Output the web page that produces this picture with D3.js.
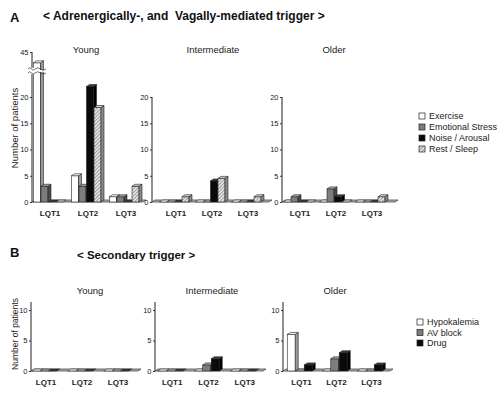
<!DOCTYPE html>
<html>
<head>
<meta charset="utf-8">
<script src="https://cdn.jsdelivr.net/npm/d3@7"></script>
<style>
  body { margin: 0; background: #fff; }
  svg { font-family: "Liberation Sans", Arial, sans-serif; }
</style>
</head>
<body>
<svg id="chart" width="500" height="394"></svg>
<script>
// data
var genotypes = ['LQT1', 'LQT2', 'LQT3']
var ageGroups = ['Young', 'Intermediate', 'Older']

var triggersA = ['Exercise', 'Emotional Stress', 'Noise / Arousal', 'Rest / Sleep']
var youngA = [[42, 3, 0, 0], [5, 3, 22, 18], [1, 1, 0, 3]]
var intermediateA = [[0, 0, 0, 1], [0, 0, 4, 4.5], [0, 0, 0, 1]]
var olderA = [[0, 1, 0, 0], [0, 2.5, 1, 0], [0, 0, 0, 1]]
var ticksA = [0, 5, 10, 15, 20]
var breakTickA = 45

var triggersB = ['Hypokalemia', 'AV block', 'Drug']
var youngB = [[0, 0, 0], [0, 0, 0], [0, 0, 0]]
var intermediateB = [[0, 0, 0], [0, 1, 2], [0, 0, 0]]
var olderB = [[6, 0, 1], [0, 2, 3], [0, 0, 1]]
var ticksB = [0, 5, 10]

var svg = d3.select('#chart')
var defs = svg.append('defs')

var hatch = defs.append('pattern')
  .attr('id', 'hatch')
  .attr('patternUnits', 'userSpaceOnUse')
  .attr('width', 2.5).attr('height', 2.5)
  .attr('patternTransform', 'rotate(45)')
hatch.append('rect').attr('width', 2.5).attr('height', 2.5).attr('fill', '#e2e2e2')
hatch.append('line').attr('x1', 0).attr('y1', 0).attr('x2', 0).attr('y2', 2.5)
  .attr('stroke', '#555').attr('stroke-width', 0.9)

// front / top / side colours per series
var stylesA = [
  {front: '#ffffff', top: '#f4f4f4', side: '#9a9a9a'},
  {front: '#7d7d7d', top: '#a8a8a8', side: '#4a4a4a'},
  {front: '#0a0a0a', top: '#3a3a3a', side: '#000000'},
  {front: 'url(#hatch)', top: '#cfcfcf', side: '#8a8a8a'}
]
var stylesB = [stylesA[0], stylesA[1], stylesA[2]]

var DX = 3, DY = 2

var pts = function (a) { return a.map(function (p) { return p.join(',') }).join(' ') }

function drawBar (g, x, w, yv, y0, st) {
  if (y0 - yv > 0.3) {
    g.append('rect').attr('x', x).attr('y', yv).attr('width', w).attr('height', y0 - yv)
      .attr('fill', st.front).attr('stroke', '#222').attr('stroke-width', 0.6)
    g.append('polygon')
      .attr('points', pts([[x + w, yv], [x + w + DX, yv - DY], [x + w + DX, y0 - DY], [x + w, y0]]))
      .attr('fill', st.side).attr('stroke', '#222').attr('stroke-width', 0.6)
  }
  g.append('polygon')
    .attr('points', pts([[x, yv], [x + DX, yv - DY], [x + w + DX, yv - DY], [x + w, yv]]))
    .attr('fill', st.top).attr('stroke', '#222').attr('stroke-width', 0.6)
}

function drawPanel (p) {
  var g = svg.append('g')
  var x = d3.scaleBand().domain(genotypes).range(p.band)
  var n = p.data[0].length
  var sub = d3.scaleBand().domain(d3.range(n)).range([0, n * p.step])
  var groupW = n * p.step + DX

  // floor
  g.append('polygon')
    .attr('points', pts([[p.axisX, p.y0], [p.xEnd, p.y0], [p.xEnd + DX, p.y0 - DY], [p.axisX + DX, p.y0 - DY]]))
    .attr('fill', '#b5b5b5').attr('stroke', '#333').attr('stroke-width', 0.7)

  genotypes.forEach(function (gt, i) {
    var gx = x(gt) + (x.bandwidth() - groupW) / 2
    p.data[i].forEach(function (v, j) {
      drawBar(g, gx + sub(j), p.barW, p.y(v), p.y0, p.styles[j])
    })
    g.append('text')
      .attr('x', x(gt) + x.bandwidth() / 2)
      .attr('y', p.y0 + 14)
      .attr('text-anchor', 'middle')
      .attr('font-size', 8).attr('font-weight', 'bold')
      .attr('fill', '#222')
      .text(gt)
  })

  // y axis
  var axis = d3.axisLeft(p.y).tickValues(p.ticks).tickSize(2).tickPadding(1.5)
  var ga = g.append('g').attr('transform', 'translate(' + p.axisX + ',0)').call(axis)
  ga.select('.domain').attr('d', 'M0,' + p.y0 + 'V' + p.yTop).attr('stroke', '#333').attr('stroke-width', 1.1)
  ga.selectAll('.tick line').attr('stroke', '#333')
  ga.selectAll('.tick text').attr('font-size', 7.5).attr('fill', '#222')
    .attr('font-family', '"Liberation Sans", Arial, sans-serif')

  g.append('text')
    .attr('x', p.titleX).attr('y', p.titleY)
    .attr('text-anchor', 'middle')
    .attr('font-size', 9.5).attr('fill', '#222')
    .text(p.name)
  return g
}

// ---- panel A ----
var y0A = 202
var yLin = d3.scaleLinear().domain([0, 20]).range([y0A, 97])
var yBroken = d3.scaleLinear().domain([0, 24, 40, 45]).range([y0A, yLin(24), 70, 52])

var dataA = [youngA, intermediateA, olderA]
var layoutA = [
  {axisX: 32, xEnd: 143, band: [31, 145], titleX: 86},
  {axisX: 152, xEnd: 269, band: [158, 266], titleX: 213},
  {axisX: 282, xEnd: 395, band: [282, 390], titleX: 334}
]
ageGroups.forEach(function (ag, i) {
  var L = layoutA[i]
  var young = i === 0
  var g = drawPanel({
    name: ag, data: dataA[i], styles: stylesA,
    axisX: L.axisX, xEnd: L.xEnd, band: L.band, titleX: L.titleX, titleY: 53,
    y0: y0A, y: young ? yBroken : yLin, yTop: young ? yBroken(breakTickA) : yLin(20),
    ticks: young ? ticksA.concat([breakTickA]) : ticksA,
    step: 7.5, barW: 7
  })
  if (young) {
    // axis break: white gap with wavy edges across axis and tall bar
    var by = 71
    var wave = function (x1, x2, yy) {
      return 'M' + x1 + ',' + yy + ' q' + (x2 - x1) / 4 + ',-2.5 ' + (x2 - x1) / 2 + ',0 t' + (x2 - x1) / 2 + ',0'
    }
    g.append('path')
      .attr('d', wave(L.axisX - 4, L.axisX + 15, by - 2) + ' L' + (L.axisX + 15) + ',' + (by + 2) +
        ' q-4.75,-2.5 -9.5,0 t-9.5,0 Z')
      .attr('fill', '#fff')
    ;[by - 2, by + 2].forEach(function (yy) {
      g.append('path').attr('d', wave(L.axisX - 4, L.axisX + 3, yy)).attr('fill', 'none').attr('stroke', '#333').attr('stroke-width', 0.7)
      g.append('path').attr('d', wave(L.axisX + 3, L.axisX + 14, yy)).attr('fill', 'none').attr('stroke', '#333').attr('stroke-width', 0.7)
    })
  }
})

// ---- panel B ----
var y0B = 371
var yB = d3.scaleLinear().domain([0, 10]).range([y0B, 310])
var dataB = [youngB, intermediateB, olderB]
var layoutB = [
  {axisX: 31, xEnd: 138, band: [28, 136], titleX: 90},
  {axisX: 155, xEnd: 263, band: [154, 263], titleX: 212},
  {axisX: 283, xEnd: 390, band: [284, 389], titleX: 335}
]
ageGroups.forEach(function (ag, i) {
  var L = layoutB[i]
  drawPanel({
    name: ag, data: dataB[i], styles: stylesB,
    axisX: L.axisX, xEnd: L.xEnd, band: L.band, titleX: L.titleX, titleY: 294,
    y0: y0B, y: yB, yTop: yB(11.3), ticks: ticksB,
    step: 8.5, barW: 8
  })
})

// titles
svg.append('text').attr('x', 10).attr('y', 22).attr('font-size', 13).attr('font-weight', 'bold').attr('fill', '#111').text('A')
svg.append('text').attr('x', 43).attr('y', 20).attr('font-size', 12).attr('font-weight', 'bold').attr('fill', '#111')
  .attr('xml:space', 'preserve').text('< Adrenergically-, and  Vagally-mediated trigger >')
svg.append('text').attr('x', 10).attr('y', 257).attr('font-size', 13).attr('font-weight', 'bold').attr('fill', '#111').text('B')
svg.append('text').attr('x', 77).attr('y', 259).attr('font-size', 11.5).attr('font-weight', 'bold').attr('fill', '#111')
  .text('< Secondary trigger >')

svg.append('text').attr('transform', 'translate(18,128) rotate(-90)')
  .attr('text-anchor', 'middle').attr('font-size', 9.5).attr('fill', '#222').text('Number of patients')
svg.append('text').attr('transform', 'translate(18,334) rotate(-90)')
  .attr('text-anchor', 'middle').attr('font-size', 8.5).attr('fill', '#222').text('Number of patients')

// legends
function legend (names, styles, lx, ly, dy) {
  var lg = svg.append('g')
  names.forEach(function (nm, i) {
    var yy = ly + i * dy
    lg.append('rect').attr('x', lx).attr('y', yy - 3).attr('width', 6).attr('height', 6)
      .attr('fill', styles[i].front).attr('stroke', '#222').attr('stroke-width', 0.7)
    lg.append('text').attr('x', lx + 10).attr('y', yy + 3.2).attr('font-size', 9).attr('fill', '#222').text(nm)
  })
}
legend(triggersA, stylesA, 419, 116, 11)
legend(triggersB, stylesB, 417, 322, 10.5)
</script>
</body>
</html>
